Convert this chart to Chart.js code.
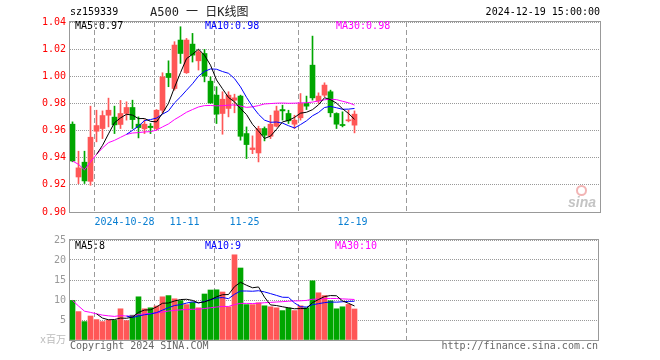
<!DOCTYPE html>
<html>
<head>
<meta charset="utf-8">
<script src="https://cdn.jsdelivr.net/npm/chart.js@4.4.1/dist/chart.umd.min.js"></script>
<style>
body { margin: 0; background: #fff; }
#wrap { position: relative; width: 660px; height: 360px; overflow: hidden; font-family: 'DejaVu Sans Mono', 'Noto Sans CJK SC', monospace; font-size: 10px; }
canvas { position: absolute; left: 0; }
.txt { position: absolute; white-space: nowrap; line-height: 12px; }
</style>
</head>
<body>
<div id="wrap">
	<canvas id="kChart" width="660" height="232" style="top:0"></canvas>
	<canvas id="volChart" width="660" height="120" style="top:230px"></canvas>

	<div class="txt" style="left:70px;top:6px;color:#000">sz159339</div>
	<div class="txt" style="left:150px;top:5px;font-size:12px;line-height:14px;color:#222">A500 一 日K线图</div>
	<div class="txt" style="right:60px;top:6px;color:#000">2024-12-19 15:00:00</div>

	<div class="txt" style="left:75px;top:20px;color:#000">MA5:0.97</div>
	<div class="txt" style="left:205px;top:20px;color:#0000ff">MA10:0.98</div>
	<div class="txt" style="left:336px;top:20px;color:#ff00ff">MA30:0.98</div>

	<div class="txt" style="left:75px;top:240px;color:#000">MA5:8</div>
	<div class="txt" style="left:205px;top:240px;color:#0000ff">MA10:9</div>
	<div class="txt" style="left:335px;top:240px;color:#ff00ff">MA30:10</div>

	<div style="position:absolute;left:576px;top:185px;width:7px;height:7px;border:2px solid #f2b4b4;border-radius:50%"></div>
	<div class="txt" style="left:568px;top:194px;font:italic bold 14px 'Liberation Sans';color:#c4c4c4">sina</div>

	<div class="txt" style="left:70px;top:340px;color:#666">Copyright 2024 SINA.COM</div>
	<div class="txt" style="right:62px;top:340px;color:#666">http://finance.sina.com.cn</div>
</div>

<script>
const DATES = ['2024-10-15','2024-10-16','2024-10-17','2024-10-18','2024-10-21','2024-10-22','2024-10-23','2024-10-24','2024-10-25','2024-10-28',
	'2024-10-29','2024-10-30','2024-10-31','2024-11-01','2024-11-04','2024-11-05','2024-11-06','2024-11-07','2024-11-08','2024-11-11',
	'2024-11-12','2024-11-13','2024-11-14','2024-11-15','2024-11-18','2024-11-19','2024-11-20','2024-11-21','2024-11-22','2024-11-25',
	'2024-11-26','2024-11-27','2024-11-28','2024-11-29','2024-12-02','2024-12-03','2024-12-04','2024-12-05','2024-12-06','2024-12-09',
	'2024-12-10','2024-12-11','2024-12-12','2024-12-13','2024-12-16','2024-12-17','2024-12-18','2024-12-19'];
const TICK_LABELS = ['2024-10-28', '11-11', '11-25', '12-19'];

const OPEN  = [0.9647,0.9258,0.9367,0.9226,0.9595,0.9615,0.9713,0.9699,0.9645,0.9726,
	0.9770,0.9647,0.9613,0.9632,0.9615,0.9750,1.0021,0.9910,1.0267,1.0026,
	1.0237,1.0114,1.0168,0.9964,0.9861,0.9726,0.9763,0.9824,0.9854,0.9578,
	0.9460,0.9435,0.9615,0.9558,0.9632,0.9755,0.9726,0.9647,0.9694,0.9800,
	1.0082,0.9819,0.9861,0.9886,0.9726,0.9645,0.9672,0.9640];
const CLOSE = [0.9376,0.9325,0.9229,0.9551,0.9637,0.9711,0.9750,0.9642,0.9726,0.9770,
	0.9681,0.9622,0.9647,0.9622,0.9750,0.9996,0.9991,1.0230,1.0168,1.0267,
	1.0156,1.0181,1.0001,0.9804,0.9721,0.9831,0.9861,0.9841,0.9558,0.9497,
	0.9472,0.9615,0.9566,0.9647,0.9745,0.9745,0.9672,0.9677,0.9800,0.9780,
	0.9841,0.9854,0.9935,0.9731,0.9647,0.9637,0.9679,0.9721];
const HIGH  = [0.9664,0.9448,0.9448,0.9780,0.9750,0.9745,0.9839,0.9780,0.9822,0.9812,
	0.9824,0.9701,0.9681,0.9652,0.9755,1.0026,1.0114,1.0255,1.0365,1.0279,
	1.0316,1.0193,1.0198,0.9996,0.9923,0.9886,0.9886,0.9868,0.9861,0.9627,
	0.9561,0.9632,0.9627,0.9713,0.9780,0.9787,0.9750,0.9713,0.9873,0.9854,
	1.0296,0.9878,0.9952,0.9898,0.9731,0.9738,0.9750,0.9745];
const LOW   = [0.9370,0.9209,0.9210,0.9197,0.9517,0.9541,0.9627,0.9578,0.9615,0.9677,
	0.9615,0.9546,0.9578,0.9578,0.9603,0.9730,0.9923,0.9898,1.0095,1.0021,
	1.0105,1.0046,0.9959,0.9800,0.9652,0.9573,0.9701,0.9731,0.9529,0.9394,
	0.9430,0.9369,0.9524,0.9541,0.9627,0.9677,0.9652,0.9615,0.9677,0.9755,
	0.9824,0.9800,0.9849,0.9701,0.9615,0.9627,0.9664,0.9583];

const MA5  = [null,null,null,null,0.9424,0.9491,0.9576,0.9658,0.9693,0.9720,
	0.9714,0.9688,0.9689,0.9668,0.9664,0.9727,0.9801,0.9918,1.0027,1.0130,
	1.0162,1.0200,1.0155,1.0082,0.9973,0.9908,0.9844,0.9812,0.9762,0.9718,
	0.9646,0.9597,0.9542,0.9559,0.9609,0.9664,0.9675,0.9697,0.9728,0.9735,
	0.9754,0.9790,0.9842,0.9828,0.9802,0.9761,0.9726,0.9683];
const MA10 = [null,null,null,null,null,null,null,null,null,0.9572,
	0.9602,0.9632,0.9674,0.9681,0.9692,0.9721,0.9745,0.9804,0.9848,0.9897,
	0.9945,1.0001,1.0036,1.0054,1.0052,1.0035,1.0022,0.9983,0.9922,0.9845,
	0.9777,0.9720,0.9677,0.9661,0.9663,0.9655,0.9636,0.9619,0.9644,0.9672,
	0.9709,0.9733,0.9770,0.9778,0.9768,0.9757,0.9758,0.9763];
const MA30 = [0.9376,0.9351,0.9310,0.9370,0.9424,0.9472,0.9511,0.9528,0.9550,0.9572,
	0.9582,0.9585,0.9590,0.9592,0.9603,0.9627,0.9649,0.9681,0.9707,0.9735,
	0.9755,0.9774,0.9784,0.9785,0.9782,0.9784,0.9787,0.9789,0.9781,0.9771,
	0.9775,0.9784,0.9796,0.9799,0.9802,0.9803,0.9801,0.9802,0.9804,0.9805,
	0.9810,0.9818,0.9827,0.9831,0.9828,0.9816,0.9805,0.9788];

// volume in millions
const VOLUME = [9.9,7.1,4.6,6.0,5.1,4.6,5.0,4.9,7.8,4.85,
	6.2,10.8,7.8,8.05,8.5,10.8,11.1,10.3,9.85,8.85,
	9.4,8.05,11.5,12.5,12.55,12.0,8.3,21.3,18.0,8.85,
	8.85,9.3,8.55,8.3,8.05,7.35,8.0,7.35,8.55,8.05,
	14.8,11.8,11.1,9.8,7.8,8.3,8.9,7.75];
const VMA5  = [null,null,null,null,6.54,5.48,5.06,5.12,5.48,5.43,
	5.75,6.91,7.49,7.54,8.27,9.19,9.25,9.75,10.11,10.18,
	9.9,9.29,9.53,10.06,10.8,11.32,11.37,13.33,14.43,13.69,
	13.06,13.26,10.71,8.77,8.61,8.31,8.05,7.81,7.86,7.86,
	9.35,10.11,10.86,11.11,11.06,9.76,9.18,8.51];
const VMA10 = [null,null,null,null,null,null,null,null,null,5.99,
	5.62,5.99,6.31,6.51,6.85,7.47,8.08,8.62,8.83,9.23,
	9.55,9.27,9.64,10.09,10.49,10.61,10.33,11.43,12.25,12.25,
	12.19,12.32,12.02,11.6,11.15,10.69,10.66,9.26,8.32,8.24,
	8.83,9.08,9.34,9.49,9.46,9.56,9.65,9.69];
const VMA30 = [9.9,8.5,7.2,6.9,6.54,6.22,6.04,5.9,6.11,5.99,
	6.0,6.4,6.51,6.62,6.75,7.0,7.24,7.41,7.54,7.61,
	7.69,7.71,7.87,8.06,8.24,8.39,8.39,8.85,9.16,9.15,
	9.12,9.19,9.32,9.4,9.5,9.59,9.69,9.77,9.8,9.9,
	10.19,10.22,10.33,10.39,10.37,10.28,10.21,10.13];

const RED = '#ff5757';
const GREEN = '#00a600';
const SLOT = 6;              // px per trading day
const X_MIN = -2.5 / SLOT;   // first candle sits just inside the frame

Chart.defaults.font.family = "'DejaVu Sans Mono', 'Noto Sans CJK SC', monospace";
Chart.defaults.font.size = 10;

var tickIndex = TICK_LABELS.map(function(lbl) {
	for (let i = 0; i < DATES.length; i++) {
		if (DATES[i].endsWith(lbl)) return i;
	}
	return 0;
});

var candleColors = DATES.map(function(d, i) { return CLOSE[i] >= OPEN[i] ? RED : GREEN; });

function linePoints(arr) {
	let pts = [];
	for (let i = 0; i < arr.length; i++) {
		if (arr[i] !== null) pts.push({x: i, y: arr[i]});
	}
	return pts;
}

function maLine(label, arr, color) {
	return { type: 'line', label: label, data: linePoints(arr), borderColor: color,
		borderWidth: 1, pointRadius: 0, tension: 0, order: 0 };
}

var framePlugin = {
	id: 'frame',
	afterDraw: function(chart) {
		let a = chart.chartArea, c = chart.ctx;
		c.save();
		c.strokeStyle = '#999';
		c.lineWidth = 1;
		c.strokeRect(a.left - 0.5, a.top - 0.5, a.right - a.left + 1, a.bottom - a.top + 1);
		c.restore();
	}
};

function xScale(width, showLabels) {
	return {
		type: 'linear', offset: false, min: X_MIN, max: X_MIN + width / SLOT,
		afterBuildTicks: function(s) { s.ticks = tickIndex.map(function(i) { return {value: i - 1 / 3}; }); },
		afterFit: function(s) { s.height = showLabels ? 20 : 0; },
		ticks: { display: showLabels, autoSkip: false, maxRotation: 0, padding: 4, color: '#0a7fd2',
			callback: function(v, i) { return TICK_LABELS[i]; } },
		grid: { color: '#9a9a9a', lineWidth: 1, drawTicks: false },
		border: { display: false, dash: [5, 3] }
	};
}

var bodies = DATES.map(function(d, i) { return {x: i, y: [OPEN[i], CLOSE[i]]}; });
var wicks = DATES.map(function(d, i) { return {x: i, y: [LOW[i], HIGH[i]]}; });

var kChart = new Chart(document.getElementById('kChart'), {
	type: 'bar',
	data: {
		datasets: [
			maLine('MA5', MA5, '#000000'),
			maLine('MA10', MA10, '#0000ff'),
			maLine('MA30', MA30, '#ff00ff'),
			{ label: 'body', data: bodies, backgroundColor: candleColors, barThickness: 5, minBarLength: 1, grouped: false, order: 2 },
			{ label: 'wick', data: wicks, backgroundColor: candleColors, barThickness: 1, minBarLength: 1, grouped: false, order: 3 }
		]
	},
	options: {
		responsive: false,
		animation: false,
		devicePixelRatio: 1,
		layout: { padding: { top: 22, right: 60, bottom: 0, left: 0 } },
		plugins: { legend: { display: false }, tooltip: { enabled: false } },
		scales: {
			x: xScale(530, true),
			y: {
				min: 0.90, max: 1.04,
				afterFit: function(s) { s.width = 70; },
				ticks: { stepSize: 0.02, color: '#ff0000', padding: 4, callback: function(v) { return v.toFixed(2); } },
				grid: { color: '#999', drawTicks: false },
				border: { display: false, dash: [1, 1] }
			}
		}
	},
	plugins: [framePlugin]
});

var volData = DATES.map(function(d, i) { return {x: i, y: VOLUME[i]}; });

var volChart = new Chart(document.getElementById('volChart'), {
	type: 'bar',
	data: {
		datasets: [
			maLine('MA5', VMA5, '#000000'),
			maLine('MA10', VMA10, '#0000ff'),
			maLine('MA30', VMA30, '#ff00ff'),
			{ label: 'vol', data: volData, backgroundColor: candleColors, barThickness: 5, grouped: false, order: 2 }
		]
	},
	options: {
		responsive: false,
		animation: false,
		devicePixelRatio: 1,
		layout: { padding: { top: 10, right: 62, bottom: 10, left: 0 } },
		plugins: { legend: { display: false }, tooltip: { enabled: false } },
		scales: {
			x: xScale(528, false),
			y: {
				min: 0, max: 25,
				afterFit: function(s) { s.width = 70; },
				ticks: { stepSize: 5, padding: 4,
					color: function(ctx) { return ctx.tick.value === 0 ? '#bbb' : '#999'; },
					callback: function(v) { return v === 0 ? 'x百万' : v; } },
				grid: { color: '#999', drawTicks: false },
				border: { display: false, dash: [1, 1] }
			}
		}
	},
	plugins: [framePlugin]
});
</script>
</body>
</html>
